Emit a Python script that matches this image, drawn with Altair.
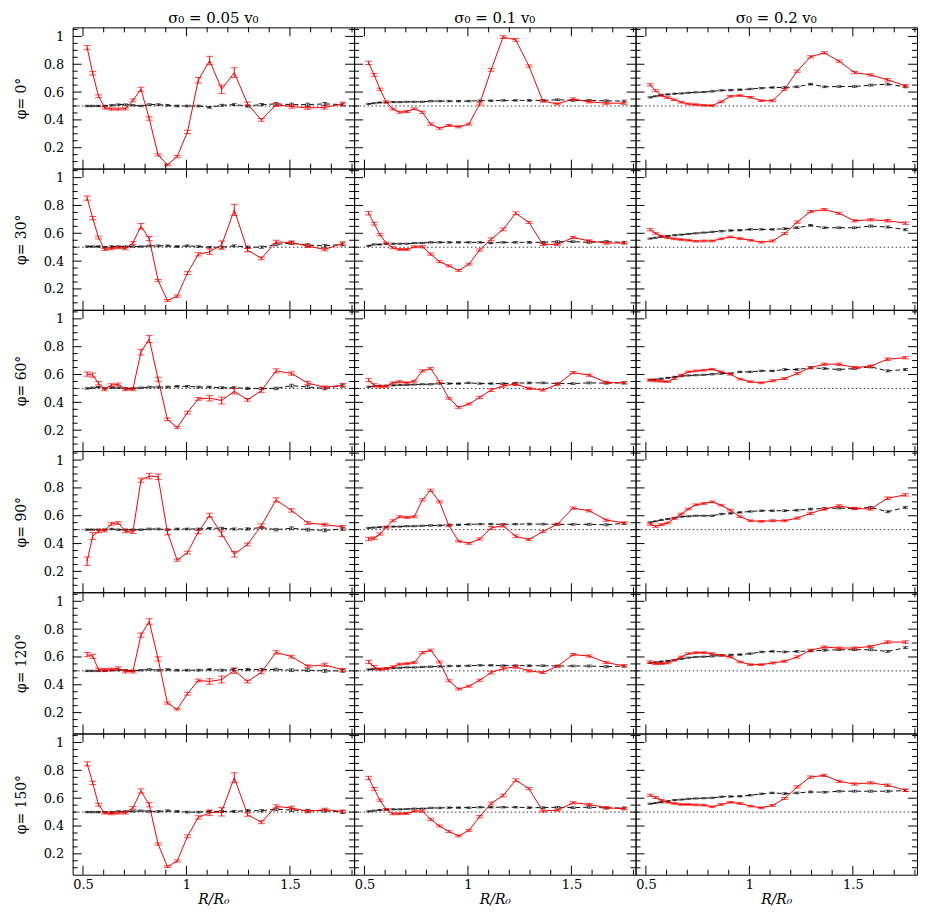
import altair as alt
import pandas as pd

# ---------------- data ----------------
R = [0.52, 0.547, 0.575, 0.605, 0.637, 0.67, 0.705, 0.741, 0.78, 0.82, 0.863, 0.908, 0.955,
     1.005, 1.057, 1.112, 1.17, 1.231, 1.295, 1.362, 1.433, 1.508, 1.586, 1.668, 1.755]

SIGMA_LABELS = ["σ₀  =  0.05  v₀", "σ₀  =  0.1  v₀", "σ₀  =  0.2  v₀"]
PHI_LABELS = ["φ= 0°", "φ= 30°", "φ= 60°", "φ= 90°", "φ= 120°", "φ= 150°"]

# red curves, sigma0 = 0.05 v0, rows phi = 0..150
RED_005 = [
    [0.92, 0.735, 0.57, 0.486, 0.478, 0.478, 0.48, 0.54, 0.62, 0.41, 0.148, 0.077, 0.136, 0.314, 0.685, 0.827, 0.62, 0.74, 0.515, 0.40, 0.508, 0.496, 0.486, 0.49, 0.515],
    [0.853, 0.709, 0.569, 0.484, 0.49, 0.498, 0.49, 0.53, 0.65, 0.562, 0.26, 0.117, 0.148, 0.314, 0.449, 0.467, 0.515, 0.768, 0.479, 0.42, 0.538, 0.533, 0.508, 0.484, 0.527],
    [0.603, 0.596, 0.537, 0.494, 0.524, 0.529, 0.494, 0.494, 0.761, 0.855, 0.566, 0.278, 0.219, 0.326, 0.425, 0.43, 0.413, 0.48, 0.418, 0.484, 0.626, 0.607, 0.539, 0.508, 0.524],
    [0.273, 0.454, 0.489, 0.494, 0.541, 0.548, 0.489, 0.482, 0.856, 0.885, 0.88, 0.482, 0.281, 0.335, 0.482, 0.603, 0.47, 0.323, 0.394, 0.529, 0.714, 0.638, 0.548, 0.536, 0.52],
    [0.617, 0.605, 0.51, 0.507, 0.51, 0.519, 0.495, 0.495, 0.757, 0.855, 0.586, 0.269, 0.224, 0.336, 0.431, 0.424, 0.438, 0.502, 0.424, 0.49, 0.633, 0.602, 0.533, 0.543, 0.507],
    [0.847, 0.71, 0.553, 0.494, 0.489, 0.494, 0.494, 0.53, 0.652, 0.553, 0.27, 0.108, 0.148, 0.326, 0.462, 0.495, 0.502, 0.748, 0.482, 0.427, 0.54, 0.53, 0.505, 0.518, 0.505],
]
RED_01 = [
    [0.81, 0.723, 0.62, 0.53, 0.478, 0.455, 0.46, 0.48, 0.455, 0.37, 0.34, 0.36, 0.35, 0.37, 0.515, 0.76, 0.995, 0.975, 0.787, 0.535, 0.515, 0.55, 0.53, 0.52, 0.52],
    [0.744, 0.669, 0.59, 0.53, 0.496, 0.484, 0.484, 0.503, 0.503, 0.45, 0.396, 0.366, 0.333, 0.378, 0.48, 0.557, 0.628, 0.744, 0.678, 0.52, 0.52, 0.57, 0.545, 0.53, 0.53],
    [0.56, 0.524, 0.512, 0.515, 0.54, 0.548, 0.54, 0.552, 0.626, 0.643, 0.548, 0.429, 0.364, 0.388, 0.436, 0.488, 0.519, 0.531, 0.50, 0.488, 0.529, 0.614, 0.595, 0.543, 0.54],
    [0.433, 0.438, 0.469, 0.517, 0.564, 0.593, 0.588, 0.593, 0.714, 0.783, 0.70, 0.529, 0.417, 0.402, 0.433, 0.512, 0.529, 0.452, 0.429, 0.486, 0.54, 0.655, 0.636, 0.569, 0.548],
    [0.564, 0.529, 0.51, 0.517, 0.529, 0.548, 0.552, 0.56, 0.631, 0.648, 0.564, 0.429, 0.369, 0.39, 0.433, 0.488, 0.517, 0.529, 0.50, 0.488, 0.533, 0.617, 0.607, 0.56, 0.536],
    [0.745, 0.667, 0.586, 0.519, 0.488, 0.488, 0.49, 0.507, 0.507, 0.448, 0.40, 0.36, 0.329, 0.369, 0.467, 0.562, 0.619, 0.729, 0.669, 0.507, 0.514, 0.567, 0.555, 0.531, 0.524],
]
RED_02 = [
    [0.652, 0.61, 0.575, 0.56, 0.545, 0.527, 0.515, 0.51, 0.505, 0.503, 0.53, 0.57, 0.575, 0.562, 0.538, 0.538, 0.62, 0.75, 0.853, 0.882, 0.822, 0.74, 0.723, 0.688, 0.645],
    [0.626, 0.60, 0.58, 0.568, 0.56, 0.555, 0.55, 0.543, 0.545, 0.545, 0.56, 0.574, 0.562, 0.55, 0.536, 0.545, 0.598, 0.68, 0.756, 0.77, 0.744, 0.69, 0.697, 0.69, 0.673],
    [0.56, 0.555, 0.552, 0.548, 0.571, 0.595, 0.619, 0.626, 0.631, 0.638, 0.619, 0.602, 0.567, 0.548, 0.54, 0.555, 0.571, 0.607, 0.65, 0.674, 0.674, 0.65, 0.66, 0.71, 0.721],
    [0.54, 0.524, 0.536, 0.548, 0.58, 0.612, 0.648, 0.679, 0.688, 0.70, 0.676, 0.64, 0.593, 0.564, 0.56, 0.564, 0.564, 0.583, 0.617, 0.648, 0.671, 0.652, 0.648, 0.726, 0.75],
    [0.564, 0.552, 0.552, 0.557, 0.576, 0.60, 0.624, 0.631, 0.631, 0.624, 0.612, 0.60, 0.564, 0.545, 0.545, 0.557, 0.569, 0.60, 0.648, 0.671, 0.664, 0.664, 0.676, 0.707, 0.707],
    [0.621, 0.605, 0.585, 0.571, 0.562, 0.555, 0.555, 0.552, 0.55, 0.538, 0.555, 0.571, 0.562, 0.543, 0.531, 0.548, 0.598, 0.681, 0.752, 0.764, 0.721, 0.702, 0.71, 0.693, 0.657],
]

# black dashed curves
BLK_005 = [
    [0.50, 0.50, 0.50, 0.50, 0.505, 0.51, 0.51, 0.505, 0.50, 0.51, 0.51, 0.505, 0.50, 0.50, 0.50, 0.49, 0.505, 0.51, 0.50, 0.51, 0.515, 0.51, 0.51, 0.515, 0.51],
    [0.505, 0.505, 0.505, 0.50, 0.505, 0.505, 0.505, 0.505, 0.505, 0.51, 0.51, 0.51, 0.505, 0.51, 0.505, 0.50, 0.50, 0.51, 0.50, 0.50, 0.52, 0.53, 0.515, 0.51, 0.52],
    [0.50, 0.505, 0.51, 0.50, 0.505, 0.505, 0.50, 0.50, 0.505, 0.51, 0.51, 0.51, 0.515, 0.515, 0.51, 0.51, 0.505, 0.505, 0.50, 0.50, 0.50, 0.52, 0.51, 0.50, 0.52],
    [0.50, 0.50, 0.50, 0.50, 0.505, 0.50, 0.50, 0.50, 0.50, 0.505, 0.505, 0.50, 0.505, 0.505, 0.505, 0.51, 0.51, 0.505, 0.505, 0.515, 0.50, 0.51, 0.50, 0.495, 0.505],
    [0.50, 0.50, 0.50, 0.50, 0.505, 0.505, 0.505, 0.50, 0.505, 0.51, 0.505, 0.51, 0.505, 0.505, 0.505, 0.51, 0.505, 0.51, 0.51, 0.51, 0.51, 0.505, 0.505, 0.50, 0.50],
    [0.50, 0.50, 0.50, 0.50, 0.50, 0.505, 0.505, 0.505, 0.51, 0.505, 0.505, 0.51, 0.505, 0.50, 0.50, 0.505, 0.505, 0.505, 0.51, 0.51, 0.52, 0.515, 0.51, 0.51, 0.50],
]
BLK_01 = [
    [0.515, 0.52, 0.525, 0.525, 0.528, 0.528, 0.53, 0.53, 0.53, 0.535, 0.535, 0.535, 0.535, 0.535, 0.538, 0.538, 0.54, 0.54, 0.54, 0.54, 0.545, 0.54, 0.54, 0.537, 0.535],
    [0.51, 0.52, 0.52, 0.525, 0.525, 0.525, 0.525, 0.53, 0.53, 0.535, 0.535, 0.535, 0.535, 0.535, 0.535, 0.53, 0.535, 0.535, 0.535, 0.535, 0.54, 0.54, 0.535, 0.54, 0.535],
    [0.512, 0.515, 0.52, 0.52, 0.522, 0.525, 0.525, 0.528, 0.53, 0.53, 0.535, 0.535, 0.535, 0.54, 0.535, 0.535, 0.535, 0.538, 0.54, 0.54, 0.535, 0.535, 0.54, 0.538, 0.54],
    [0.512, 0.515, 0.518, 0.52, 0.522, 0.522, 0.525, 0.525, 0.528, 0.53, 0.53, 0.535, 0.535, 0.538, 0.54, 0.54, 0.538, 0.54, 0.54, 0.54, 0.538, 0.538, 0.538, 0.535, 0.545],
    [0.51, 0.512, 0.515, 0.518, 0.52, 0.522, 0.525, 0.525, 0.528, 0.53, 0.532, 0.535, 0.535, 0.537, 0.54, 0.54, 0.538, 0.538, 0.537, 0.537, 0.535, 0.535, 0.535, 0.53, 0.535],
    [0.505, 0.51, 0.515, 0.518, 0.52, 0.52, 0.522, 0.525, 0.525, 0.53, 0.53, 0.532, 0.532, 0.532, 0.535, 0.535, 0.535, 0.535, 0.532, 0.532, 0.535, 0.532, 0.535, 0.53, 0.53],
]
BLK_02 = [
    [0.562, 0.57, 0.58, 0.583, 0.588, 0.59, 0.595, 0.598, 0.60, 0.605, 0.612, 0.614, 0.617, 0.622, 0.628, 0.633, 0.633, 0.638, 0.657, 0.638, 0.64, 0.64, 0.65, 0.657, 0.638],
    [0.562, 0.568, 0.575, 0.58, 0.586, 0.59, 0.595, 0.60, 0.605, 0.61, 0.615, 0.62, 0.622, 0.628, 0.628, 0.628, 0.633, 0.64, 0.657, 0.64, 0.64, 0.64, 0.652, 0.645, 0.626],
    [0.56, 0.565, 0.57, 0.576, 0.583, 0.588, 0.593, 0.595, 0.598, 0.602, 0.607, 0.607, 0.619, 0.619, 0.626, 0.626, 0.636, 0.636, 0.648, 0.643, 0.636, 0.643, 0.655, 0.626, 0.636],
    [0.552, 0.56, 0.57, 0.576, 0.585, 0.593, 0.596, 0.60, 0.60, 0.60, 0.612, 0.617, 0.624, 0.631, 0.636, 0.636, 0.636, 0.64, 0.648, 0.652, 0.655, 0.652, 0.66, 0.629, 0.66],
    [0.557, 0.562, 0.567, 0.572, 0.578, 0.585, 0.595, 0.60, 0.602, 0.605, 0.612, 0.615, 0.617, 0.624, 0.636, 0.64, 0.636, 0.64, 0.643, 0.648, 0.652, 0.652, 0.652, 0.64, 0.667],
    [0.56, 0.565, 0.571, 0.578, 0.586, 0.59, 0.595, 0.598, 0.60, 0.602, 0.61, 0.612, 0.614, 0.621, 0.631, 0.638, 0.633, 0.638, 0.645, 0.643, 0.65, 0.65, 0.65, 0.65, 0.655],
]

# error half-widths
RED_ERR_005 = [
    [0.015, 0.012, 0.01, 0.008, 0.008, 0.008, 0.008, 0.01, 0.015, 0.012, 0.008, 0.006, 0.008, 0.012, 0.02, 0.03, 0.03, 0.035, 0.012, 0.01, 0.012, 0.012, 0.01, 0.012, 0.012],
    [0.015, 0.012, 0.01, 0.008, 0.008, 0.008, 0.008, 0.01, 0.02, 0.015, 0.008, 0.006, 0.008, 0.01, 0.012, 0.02, 0.03, 0.04, 0.012, 0.01, 0.012, 0.012, 0.01, 0.01, 0.012],
    [0.015, 0.015, 0.012, 0.01, 0.01, 0.01, 0.01, 0.01, 0.02, 0.025, 0.015, 0.01, 0.008, 0.01, 0.01, 0.02, 0.025, 0.02, 0.01, 0.012, 0.015, 0.012, 0.012, 0.01, 0.012],
    [0.03, 0.025, 0.012, 0.01, 0.01, 0.01, 0.01, 0.01, 0.015, 0.02, 0.02, 0.02, 0.008, 0.01, 0.012, 0.015, 0.02, 0.02, 0.01, 0.012, 0.015, 0.012, 0.01, 0.01, 0.01],
    [0.015, 0.015, 0.01, 0.01, 0.01, 0.01, 0.01, 0.01, 0.015, 0.02, 0.015, 0.008, 0.006, 0.01, 0.01, 0.02, 0.025, 0.02, 0.01, 0.01, 0.012, 0.01, 0.01, 0.012, 0.01],
    [0.015, 0.012, 0.01, 0.008, 0.008, 0.008, 0.008, 0.01, 0.015, 0.015, 0.008, 0.006, 0.008, 0.01, 0.012, 0.02, 0.03, 0.035, 0.012, 0.01, 0.012, 0.012, 0.01, 0.01, 0.01],
]
RED_ERR_01 = [0.012, 0.01, 0.008, 0.007, 0.007, 0.007, 0.007, 0.007, 0.008, 0.008, 0.007, 0.007, 0.007,
              0.007, 0.008, 0.01, 0.01, 0.01, 0.008, 0.007, 0.007, 0.008, 0.008, 0.008, 0.008]
RED_ERR_02 = [0.008, 0.007, 0.006, 0.006, 0.006, 0.006, 0.006, 0.006, 0.006, 0.006, 0.006, 0.006, 0.006,
              0.006, 0.006, 0.007, 0.007, 0.008, 0.008, 0.008, 0.008, 0.008, 0.008, 0.009, 0.009]
BLK_ERR = [
    [0.005, 0.005, 0.005, 0.005, 0.005, 0.005, 0.005, 0.005, 0.005, 0.006, 0.006, 0.006, 0.006,
     0.006, 0.006, 0.006, 0.007, 0.007, 0.008, 0.008, 0.009, 0.01, 0.01, 0.01, 0.01],
    [0.004, 0.004, 0.004, 0.004, 0.004, 0.004, 0.004, 0.004, 0.004, 0.005, 0.005, 0.005, 0.005,
     0.005, 0.005, 0.005, 0.005, 0.005, 0.006, 0.006, 0.006, 0.006, 0.007, 0.007, 0.007],
    [0.004, 0.004, 0.004, 0.004, 0.004, 0.004, 0.004, 0.004, 0.004, 0.005, 0.005, 0.005, 0.005,
     0.005, 0.005, 0.005, 0.006, 0.006, 0.006, 0.006, 0.006, 0.006, 0.007, 0.007, 0.007],
]

RED_ALL = [RED_005, RED_01, RED_02]
BLK_ALL = [BLK_005, BLK_01, BLK_02]
REF_LEVEL = [0.5]

X_DOMAIN = [0.45, 1.81]
Y_DOMAIN = [0.05, 1.065]
X_LABELS = [0.5, 1.0, 1.5]
X_MINOR = [0.6, 0.7, 0.8, 0.9, 1.1, 1.2, 1.3, 1.4, 1.6, 1.7, 1.8]
Y_LABELS = [0.2, 0.4, 0.6, 0.8, 1.0]
Y_MINOR = [0.1, 0.15, 0.25, 0.3, 0.35, 0.45, 0.5, 0.55, 0.65, 0.7, 0.75, 0.85, 0.9, 0.95, 1.05]

# ---------------- layout ----------------
W, H = 283, 142
MAJ, MIN = 9, 5
FONT = "DejaVu Serif"

xs = alt.Scale(domain=X_DOMAIN, nice=False, zero=False)
ys = alt.Scale(domain=Y_DOMAIN, nice=False, zero=False)


def red_err(r, c):
    if c == 0:
        return RED_ERR_005[r]
    return RED_ERR_01 if c == 1 else RED_ERR_02


def panel(r, c):
    red = RED_ALL[c][r]
    blk = BLK_ALL[c][r]
    re = red_err(r, c)
    be = BLK_ERR[c]
    df = pd.DataFrame({
        "R": R,
        "red": red,
        "rlo": [v - e for v, e in zip(red, re)],
        "rhi": [v + e for v, e in zip(red, re)],
        "blk": blk,
        "blo": [v - e for v, e in zip(blk, be)],
        "bhi": [v + e for v, e in zip(blk, be)],
    })
    base = alt.Chart(df)

    if r == 5:
        xax = alt.Axis(values=X_LABELS, format="~g", title="R/R₀", titleFontStyle="italic",
                       labelPadding=4, titlePadding=1)
    else:
        xax = None
    if c == 0:
        yax = alt.Axis(values=Y_LABELS, format="~g", title=PHI_LABELS[r],
                       labelPadding=9, titlePadding=15)
    else:
        yax = None

    def X(field):
        return alt.X(field, scale=xs, axis=xax)

    def Y(field):
        return alt.Y(field, scale=ys, axis=yax)

    ref = alt.Chart(pd.DataFrame({"y": REF_LEVEL})).mark_rule(
        color="#333", strokeWidth=1, strokeDash=[1.5, 2.5]
    ).encode(y=Y("y:Q"))

    blk_line = base.mark_line(color="#111", strokeWidth=1, strokeDash=[5, 3]).encode(
        x=X("R:Q"), y=Y("blk:Q"))
    blk_bar = base.mark_rule(color="#111", strokeWidth=1).encode(
        x=X("R:Q"), y=Y("blo:Q"), y2="bhi:Q")
    blk_cap1 = base.mark_tick(color="#111", orient="horizontal", size=5, thickness=1).encode(
        x=X("R:Q"), y=Y("blo:Q"))
    blk_cap2 = base.mark_tick(color="#111", orient="horizontal", size=5, thickness=1).encode(
        x=X("R:Q"), y=Y("bhi:Q"))

    red_line = base.mark_line(color="#ff0000", strokeWidth=1).encode(
        x=X("R:Q"), y=Y("red:Q"))
    red_bar = base.mark_rule(color="#ff0000", strokeWidth=1).encode(
        x=X("R:Q"), y=Y("rlo:Q"), y2="rhi:Q")
    red_cap1 = base.mark_tick(color="#ff0000", orient="horizontal", size=7, thickness=1).encode(
        x=X("R:Q"), y=Y("rlo:Q"))
    red_cap2 = base.mark_tick(color="#ff0000", orient="horizontal", size=7, thickness=1).encode(
        x=X("R:Q"), y=Y("rhi:Q"))

    # inward frame ticks
    ticks = []
    for vals, ln in ((X_LABELS, MAJ), (X_MINOR, MIN)):
        tdf = pd.DataFrame({"v": vals})
        for y0, y1 in ((0, ln), (H, H - ln)):
            ticks.append(alt.Chart(tdf).mark_rule(color="black", strokeWidth=1).encode(
                x=X("v:Q"), y=alt.value(y0), y2=alt.value(y1)))
    for vals, ln in ((Y_LABELS, MAJ), (Y_MINOR, MIN)):
        tdf = pd.DataFrame({"v": vals})
        for x0, x1 in ((0, ln), (W, W - ln)):
            ticks.append(alt.Chart(tdf).mark_rule(color="black", strokeWidth=1).encode(
                y=Y("v:Q"), x=alt.value(x0), x2=alt.value(x1)))

    layers = [ref, blk_line, blk_bar, blk_cap1, blk_cap2,
              red_line, red_bar, red_cap1, red_cap2] + ticks
    ch = alt.layer(*layers).properties(width=W, height=H)
    if r == 0:
        ch = ch.properties(title=alt.TitleParams(
            text=SIGMA_LABELS[c], font=FONT, fontSize=15, fontWeight="normal",
            color="black", offset=1, anchor="middle", frame="group"))
    return ch


panels = [panel(r, c) for r in range(6) for c in range(3)]
chart = alt.concat(*panels, columns=3, spacing=0, bounds="flush").properties(
    padding={"left": 5, "top": 0, "right": 0, "bottom": 0}
).configure_view(
    stroke="black", strokeWidth=1
).configure_axis(
    domain=False, ticks=False, grid=False,
    labelFont=FONT, labelFontSize=13, labelColor="black",
    titleFont=FONT, titleFontSize=14, titleFontWeight="normal", titleColor="black"
)

chart.save("out.html", embed_options={"renderer": "svg", "actions": False})
